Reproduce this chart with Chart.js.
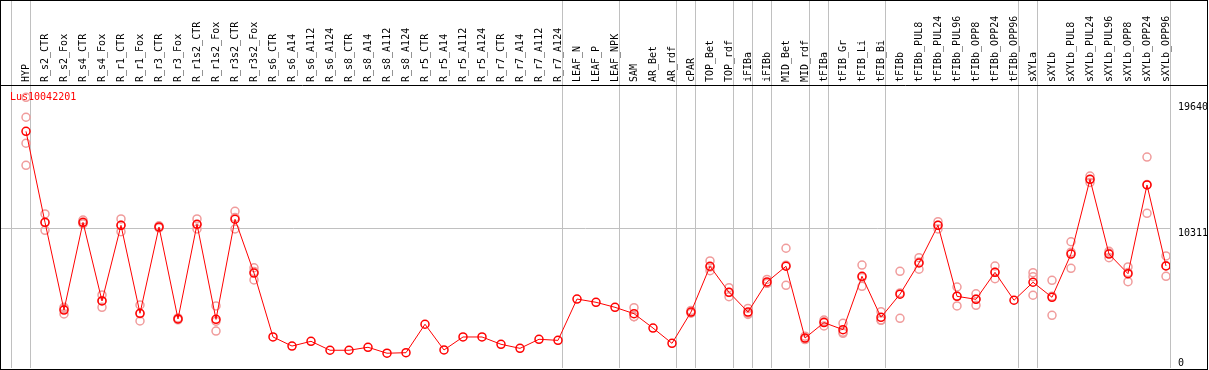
<!DOCTYPE html>
<html>
<head>
<meta charset="utf-8">
<script src="https://cdn.jsdelivr.net/npm/chart.js@4.4.1/dist/chart.umd.min.js"></script>
<style>
  html, body { margin: 0; padding: 0; background: #fff; }
  #wrap { position: relative; width: 1208px; height: 370px; border: 1px solid #000; box-sizing: border-box; }
</style>
</head>
<body>
<div id="wrap"><canvas id="geneChart"></canvas></div>
<script>
const TITLE = 'Lus10042201';

const categories = ['HYP', 'R_s2_CTR', 'R_s2_Fox', 'R_s4_CTR', 'R_s4_Fox', 'R_r1_CTR', 'R_r1_Fox',
  'R_r3_CTR', 'R_r3_Fox', 'R_r1s2_CTR', 'R_r1s2_Fox', 'R_r3s2_CTR', 'R_r3s2_Fox', 'R_s6_CTR',
  'R_s6_A14', 'R_s6_A112', 'R_s6_A124', 'R_s8_CTR', 'R_s8_A14', 'R_s8_A112', 'R_s8_A124',
  'R_r5_CTR', 'R_r5_A14', 'R_r5_A112', 'R_r5_A124', 'R_r7_CTR', 'R_r7_A14', 'R_r7_A112',
  'R_r7_A124', 'LEAF_N', 'LEAF_P', 'LEAF_NPK', 'SAM', 'AR_Bet', 'AR_rdf', 'cPAR', 'TOP_Bet',
  'TOP_rdf', 'iFIBa', 'iFIBb', 'MID_Bet', 'MID_rdf', 'tFIBa', 'tFIB_Gr', 'tFIB_Li', 'tFIB_Bi',
  'tFIBb', 'tFIBb_PUL8', 'tFIBb_PUL24', 'tFIBb_PUL96', 'tFIBb_OPP8', 'tFIBb_OPP24', 'tFIBb_OPP96',
  'sXYLa', 'sXYLb', 'sXYLb_PUL8', 'sXYLb_PUL24', 'sXYLb_PUL96', 'sXYLb_OPP8', 'sXYLb_OPP24',
  'sXYLb_OPP96'];

// mean expression per sample
const meanValues = [17470, 10750, 4280, 10750, 4950, 10530, 4040, 10410, 3620, 10610, 3590,
  10980, 7010, 2290, 1620, 1970, 1310, 1310, 1530, 1090, 1130, 3230, 1330, 2290, 2290, 1750,
  1450, 2120, 2040, 5090, 4850, 4480, 4010, 2950, 1820, 4130, 7510, 5590, 4130, 6350, 7510,
  2210, 3350, 2830, 6770, 3740, 5450, 7750, 10530, 5290, 5070, 7060, 5000, 6330, 5220, 8410,
  13930, 8410, 6960, 13510, 7530];

// replicates (null = not shown)
const rep1 = [19980, 11370, 4480, 10920, 5390, 11000, 4650, 10500, 3700, 11000, 4580, 11570, 7400,
  null, null, null, null, null, null, null, null, null, null, null, null, null, null, null, null,
  null, null, null, 4450, null, null, 4250, 7900, 5930, 4400, 6540, 8840, 2350, 3540, 3300, 7600,
  4160, 7140, 8140, 10800, 5980, 5480, 7530, null, 7035, 6470, 9320, 14170, 8610, 7460, 15570, 8270];
const rep2 = [18510, 10160, 3990, 10650, 4480, 10060, 3470, 10350, 3560, 10260, 2730, 10260, 6500,
  null, null, null, null, null, null, null, null, null, null, null, null, null, null, null, null,
  null, null, null, 3790, null, null, 4050, 7180, 5260, 3950, 6250, 6100, 2100, 3100, 2560, 6030,
  3540, 3670, 7290, 10260, 4580, 4630, 6590, null, 6740, 3890, 7360, 13700, 8140, 6370, 11420, 6770];
const rep3 = [16590, 10730, 4370, 10680, 4980, 10530, 4000, 10380, 3600, 10570, 3460, 11110, 7130,
  null, null, null, null, null, null, null, null, null, null, null, null, null, null, null, null,
  null, null, null, 3790, null, null, 4090, 7450, 5580, 4040, 6260, 7590, 2180, 3410, 2630, 6680,
  3520, 5540, 7820, 10530, 5310, 5100, 7060, null, 5370, 5300, 8550, 13920, 8480, 7050, 13540, 7550];
const rep4 = [14960];

// index where each sample group starts (separator lines)
const groupStarts = [0, 1, 29, 32, 35, 36, 38, 39, 40, 42, 43, 46, 53, 54, 61];

const yTicks = [0, 10311, 19640];
const Y_MAX = 20890;

const FONT = "'DejaVu Sans Mono', 'Liberation Mono', monospace";
const SLOT = 19;          // px per sample
const POINT_IN_SLOT = 15; // point sits 15px into its slot
const X_MIN = -25 / SLOT;
const X_MAX = X_MIN + 1169 / SLOT;

function toPoints(arr) {
  return arr.map((v, i) => ({ x: i, y: v === undefined ? null : v }));
}

function noPadding(axis) {
  axis.paddingLeft = 0;
  axis.paddingRight = 0;
  axis.paddingTop = 0;
  axis.paddingBottom = 0;
}

const repStyle = {
  showLine: false,
  pointRadius: 4,
  pointBorderWidth: 1.5,
  pointBorderColor: '#f09c9c',
  pointBackgroundColor: 'rgba(0,0,0,0)',
  xAxisID: 'x',
  yAxisID: 'y'
};

const framePlugin = {
  id: 'frame',
  beforeDatasetsDraw(chart) {
    const { ctx, chartArea } = chart;
    ctx.save();
    ctx.fillStyle = '#ff0000';
    ctx.font = '10px ' + FONT;
    ctx.textBaseline = 'middle';
    ctx.textAlign = 'left';
    ctx.fillText(TITLE, chartArea.left + 9, chartArea.top + 12);
    ctx.restore();
  },
  afterDraw(chart) {
    const { ctx, chartArea, width } = chart;
    ctx.save();
    ctx.strokeStyle = '#000';
    ctx.lineWidth = 1;
    ctx.beginPath();
    ctx.moveTo(0, chartArea.top + 0.5);
    ctx.lineTo(width, chartArea.top + 0.5);
    ctx.stroke();
    ctx.restore();
  }
};

const ctx = document.getElementById('geneChart').getContext('2d');
const geneChart = new Chart(ctx, {
  type: 'line',
  data: {
    datasets: [{
      label: 'mean',
      data: toPoints(meanValues),
      borderColor: '#ff0000',
      borderWidth: 1,
      pointRadius: 4,
      pointBorderWidth: 1.5,
      pointBorderColor: '#ff0000',
      pointBackgroundColor: 'rgba(0,0,0,0)',
      tension: 0,
      xAxisID: 'x',
      yAxisID: 'y'
    },
    Object.assign({ label: 'rep1', data: toPoints(rep1) }, repStyle),
    Object.assign({ label: 'rep2', data: toPoints(rep2) }, repStyle),
    Object.assign({ label: 'rep3', data: toPoints(rep3) }, repStyle),
    Object.assign({ label: 'rep4', data: toPoints(rep4) }, repStyle)]
  },
  options: {
    animation: false,
    responsive: true,
    maintainAspectRatio: false,
    layout: { autoPadding: false, padding: { left: 0, right: 0, top: 0, bottom: 1 } },
    plugins: {
      legend: { display: false },
      tooltip: { enabled: false }
    },
    scales: {
      // group separators, lines run up through the label area
      x: {
        type: 'linear',
        position: 'top',
        weight: 0,
        min: X_MIN,
        max: X_MAX,
        afterBuildTicks: axis => {
          axis.ticks = groupStarts.map(k => ({ value: k - POINT_IN_SLOT / SLOT }));
        },
        afterFit: axis => { axis.height = 0; noPadding(axis); },
        ticks: { display: false },
        grid: { color: '#c0c0c0', lineWidth: 1, drawTicks: true, tickLength: 84 },
        border: { display: false }
      },
      // sample names
      xLabels: {
        type: 'linear',
        position: 'top',
        weight: 1,
        min: X_MIN,
        max: X_MAX,
        afterBuildTicks: axis => {
          axis.ticks = categories.map((c, i) => ({ value: i }));
        },
        afterFit: axis => { axis.height = 84; noPadding(axis); },
        ticks: {
          autoSkip: false,
          minRotation: 90,
          maxRotation: 90,
          padding: 3,
          labelOffset: 12,
          color: '#000',
          font: { family: FONT, size: 10 },
          callback: v => categories[Math.round(v)]
        },
        grid: { display: false, drawTicks: false },
        border: { display: false }
      },
      y: {
        type: 'linear',
        position: 'right',
        weight: 1,
        min: 0,
        max: Y_MAX,
        afterBuildTicks: axis => {
          axis.ticks = yTicks.slice(1).map(v => ({ value: v }));
        },
        afterFit: axis => { axis.width = 37; noPadding(axis); },
        ticks: {
          align: 'start',
          padding: 8,
          color: '#000',
          font: { family: FONT, size: 10 },
          callback: v => String(v)
        },
        grid: {
          drawTicks: false,
          color: c => (c.tick && c.tick.value === yTicks[1]) ? '#c0c0c0' : 'rgba(0,0,0,0)'
        },
        border: { display: false }
      },
      // the 0 label sits above the baseline
      yZero: {
        type: 'linear',
        position: 'right',
        weight: 0,
        min: 0,
        max: Y_MAX,
        afterBuildTicks: axis => {
          axis.ticks = [{ value: yTicks[0] }];
        },
        afterFit: axis => { axis.width = 0; noPadding(axis); },
        ticks: {
          align: 'end',
          mirror: true,
          crossAlign: 'near',
          padding: 14,
          color: '#000',
          font: { family: FONT, size: 10 },
          callback: v => String(v)
        },
        grid: { display: false, drawTicks: false },
        border: { display: false }
      }
    }
  },
  plugins: [framePlugin]
});
</script>
</body>
</html>
